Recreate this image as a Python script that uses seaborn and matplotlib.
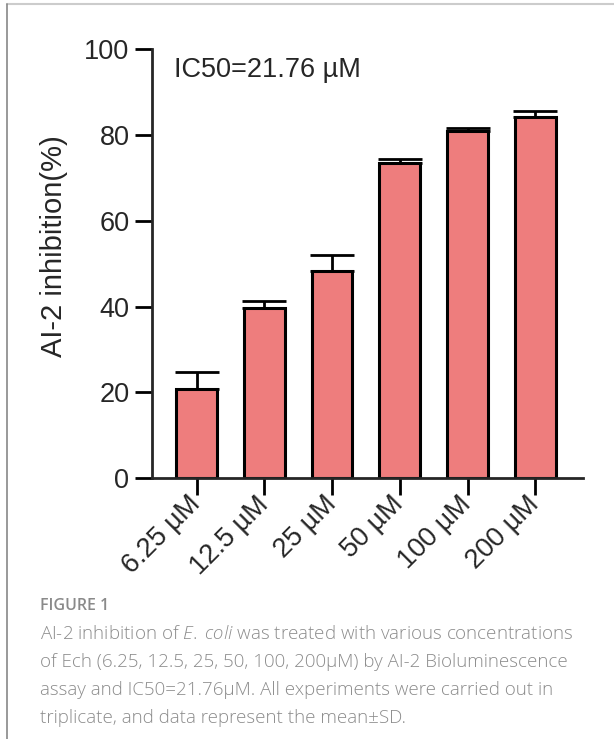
import pandas as pd
import seaborn as sns
import matplotlib.pyplot as plt
from matplotlib.lines import Line2D

# values (mean and SD, % inhibition)
concentrations = ['6.25 µM', '12.5 µM', '25 µM', '50 µM', '100 µM', '200 µM']
inhibition = [20.7, 39.7, 48.4, 73.5, 80.8, 84.2]
sd = [4.1, 1.7, 3.5, 0.9, 0.7, 1.4]
y_ticks = [0, 20, 40, 60, 80, 100]

caption_title = 'FIGURE 1'
caption_lines = [
    r'AI-2 inhibition of $\mathit{E.}$ $\mathit{coli}$ was treated with various concentrations',
    'of Ech (6.25, 12.5, 25, 50, 100, 200µM) by AI-2 Bioluminescence',
    'assay and IC50=21.76µM. All experiments were carried out in',
    'triplicate, and data represent the mean±SD.',
]

sns.set_style('ticks')
plt.rcParams['font.family'] = ['Liberation Sans', 'DejaVu Sans']
plt.rcParams['mathtext.fontset'] = 'custom'
plt.rcParams['mathtext.it'] = 'Open Sans:italic:light'
plt.rcParams['mathtext.rm'] = 'Open Sans:light'

df = pd.DataFrame({'conc': concentrations, 'value': inhibition, 'sd': sd})

fig = plt.figure(figsize=(6.14, 7.39), dpi=100)
ax = fig.add_axes([0.247, 0.3528, 0.702, 0.5809])

sns.barplot(data=df, x='conc', y='value', color='#EE7D7D', saturation=1,
            edgecolor='black', linewidth=2.2, width=0.6, errorbar=None, ax=ax)
ax.errorbar(range(len(df)), df['value'], yerr=[[0] * len(df), df['sd']],
            fmt='none', ecolor='black', elinewidth=2, capsize=15.5, capthick=2,
            zorder=1)

ax.set_xlim(-0.664, 5.70)
ax.set_ylim(0, 100)
ax.set_yticks(y_ticks)
ax.set_xlabel('')
ax.set_ylabel('AI-2 inhibition(%)', fontsize=21)
ax.yaxis.set_label_coords(-0.195, 0.54)
sns.despine(ax=ax)
for side in ['left', 'bottom']:
    ax.spines[side].set_linewidth(2)
ax.tick_params(axis='both', length=12, width=2, color='black')
ax.tick_params(axis='y', pad=4, labelsize=19.5)
ax.tick_params(axis='x', pad=4, labelsize=19.5)
for lbl in ax.get_xticklabels():
    lbl.set_rotation(45)
    lbl.set_ha('right')
    lbl.set_rotation_mode('anchor')
    lbl.set_va('center')

ax.text(-0.335, 95.1, 'IC50=21.76 µM', fontsize=19.5, va='center', ha='left')

# caption below the chart
fig.text(0.065, 1 - 606 / 739, caption_title, fontsize=11.5, color='#8a8a8a',
         fontweight='semibold', family=['Open Sans', 'DejaVu Sans'], va='center')
for i, line in enumerate(caption_lines):
    fig.text(0.065, 1 - (634 + 28 * i) / 739, line, fontsize=13.5, color='#8c8c8c',
             family=['Open Sans', 'DejaVu Sans'], fontweight='light', va='center')

# thin frame lines at the top and left edges
fig.add_artist(Line2D([7 / 614, 1], [1 - 4 / 739, 1 - 4 / 739], color='#cccccc', lw=1.5))
fig.add_artist(Line2D([7 / 614, 7 / 614], [0, 1 - 4 / 739], color='#888888', lw=1.2))

fig.savefig('out.png', dpi=100)
